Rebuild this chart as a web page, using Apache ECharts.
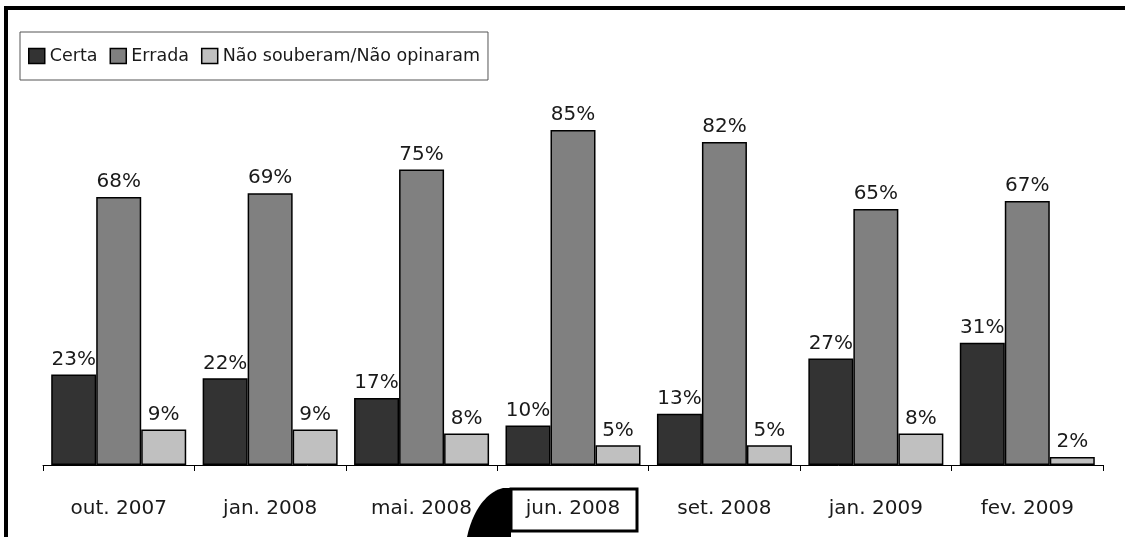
<!DOCTYPE html>
<html><head><meta charset="utf-8">
<script src="https://cdn.jsdelivr.net/npm/echarts@6/dist/echarts.min.js"></script>
<style>html,body{margin:0;padding:0;background:#fff}#c{width:1125px;height:537px}</style>
</head><body><div id="c"></div>
<script>
const categories = ['out. 2007','jan. 2008','mai. 2008','jun. 2008','set. 2008','jan. 2009','fev. 2009'];
const seriesNames = ['Certa','Errada','Não souberam/Não opinaram'];
const certa = [23,22,17,10,13,27,31];
const errada = [68,69,75,85,82,65,67];
const naoSouberam = [9,9,8,5,5,8,2];
const colors = ['#333333','#808080','#c0c0c0'];
const FONT = 'DejaVu Sans';

// callout tail shape (decoration): curved wedge next to the highlighted label box
function tail(){
  const p0=[467,537], c1=[472,514], c2=[484,493], p3=[503,488];
  const pts=[];
  for(let i=0;i<=24;i++){
    const t=i/24, u=1-t;
    pts.push([u*u*u*p0[0]+3*u*u*t*c1[0]+3*u*t*t*c2[0]+t*t*t*p3[0],
              u*u*u*p0[1]+3*u*u*t*c1[1]+3*u*t*t*c2[1]+t*t*t*p3[1]]);
  }
  pts.push([511,488],[511,537]);
  return pts;
}

const chart = echarts.init(document.getElementById('c'), null, {renderer:'canvas'});
const mk = (name, data, color) => ({
  name, type:'bar', data, barWidth:45, barGap:'0%',
  itemStyle:{color, borderColor:'#000', borderWidth:1.5},
  label:{show:true, position:'top', distance:5, formatter:'{c}%', color:'#1a1a1a', fontFamily:FONT, fontSize:20},
  animation:false
});
chart.setOption({
  animation:false,
  textStyle:{fontFamily:FONT},
  grid:{left:43, right:22, top:71, bottom:72, containLabel:false},
  legend:{
    left:20, top:32, padding:[15,8,15,8], itemGap:12, itemWidth:16, itemHeight:15,
    borderColor:'#555', borderWidth:1, icon:'rect',
    itemStyle:{borderColor:'#000', borderWidth:1.5},
    textStyle:{fontFamily:FONT, fontSize:17.5, color:'#1a1a1a'},
    data:seriesNames
  },
  xAxis:{
    type:'category', data:categories,
    axisLine:{lineStyle:{color:'#000', width:1}},
    axisTick:{show:true, length:6, lineStyle:{color:'#000'}},
    axisLabel:{margin:34, fontFamily:FONT, fontSize:20, color:'#1a1a1a'}
  },
  yAxis:{type:'value', min:0, max:100, show:false, splitLine:{show:false}},
  series:[mk(seriesNames[0], certa, colors[0]), mk(seriesNames[1], errada, colors[1]), mk(seriesNames[2], naoSouberam, colors[2])],
  graphic:[
    {type:'line', shape:{x1:4, y1:8, x2:1125, y2:8}, style:{stroke:'#000', lineWidth:4}, z:100},
    {type:'line', shape:{x1:6, y1:6, x2:6, y2:537}, style:{stroke:'#000', lineWidth:4}, z:100},
    {type:'polygon', shape:{points:tail()}, style:{fill:'#000'}, z:100},
    {type:'rect', shape:{x:511, y:489, width:126, height:42}, style:{fill:'none', stroke:'#000', lineWidth:3}, z:101}
  ]
});
</script></body></html>
